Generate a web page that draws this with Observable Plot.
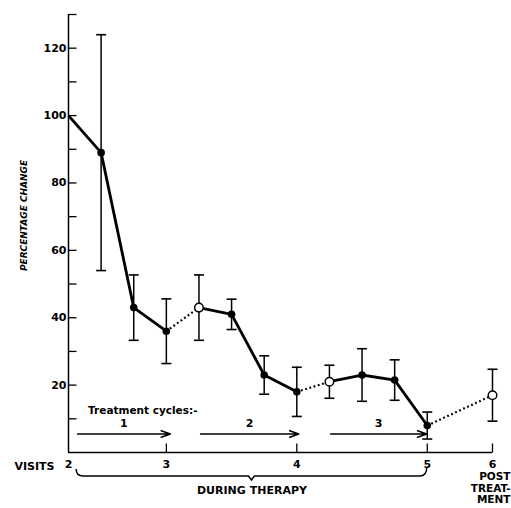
<!DOCTYPE html>
<html>
<head>
<meta charset="utf-8">
<script src="https://cdn.jsdelivr.net/npm/d3@7"></script>
<script src="https://cdn.jsdelivr.net/npm/@observablehq/plot@0.6"></script>
<style>
  body { margin: 0; background: #fff; }
  svg { overflow: visible; }
</style>
</head>
<body>
<div id="chart"></div>
<script>
// Time of each measurement, in weeks from visit 2
const weeks = [0, 1, 2, 3, 4, 5, 6, 7, 8, 9, 10, 11, 13];
// Mean percentage change and its error
const percentChange = [100, 89, 43, 36, 43, 41, 23, 18, 21, 23, 21.5, 8, 17];
const errorSize = [0, 35, 9.7, 9.6, 9.7, 4.5, 5.7, 7.3, 4.9, 7.8, 6, 4, 7.7];
// Marker type: filled = during a cycle, open = between cycles / after treatment
const pointStyle = ["none", "filled", "filled", "filled", "open", "filled", "filled", "filled", "open", "filled", "filled", "filled", "open"];

// Clinic visits
const visitWeeks = [0, 3, 7, 11, 13];
const visitLabels = ["2", "3", "4", "5", "6"];

// Treatment cycles (weeks)
const cycleStart = [0.28, 4.05, 8.04];
const cycleEnd = [3.12, 7.06, 10.98];
const cycleLabels = ["1", "2", "3"];
const cycleHeader = "Treatment cycles:-";

// Therapy period bracket
const therapyStart = 0.25;
const therapyEnd = 11;

const yTickValues = [10, 20, 30, 40, 50, 60, 70, 80, 90, 100, 110, 120, 130];
const yLabelValues = [20, 40, 60, 80, 100, 120];

const points = weeks.map((w, i) => ({week: w, value: percentChange[i], err: errorSize[i], style: pointStyle[i]}));
const segments = d3.pairs(points).map(([a, b]) => ({x1: a.week, y1: a.value, x2: b.week, y2: b.value, dotted: b.style === "open"}));
const withErr = points.filter(p => p.err > 0);
const caps = withErr.flatMap(p => [{week: p.week, y: p.value + p.err}, {week: p.week, y: p.value - p.err}]);

// Custom symbols: error-bar cap, inward axis ticks
const capSymbol = {draw(ctx, size) { const w = Math.sqrt(size / Math.PI); ctx.moveTo(-w, 0); ctx.lineTo(w, 0); }};
const tickRight = {draw(ctx, size) { const w = Math.sqrt(size / Math.PI); ctx.moveTo(0, 0); ctx.lineTo(w, 0); }};
const tickUp = {draw(ctx, size) { const w = Math.sqrt(size / Math.PI); ctx.moveTo(0, 0); ctx.lineTo(0, -w); }};

// Curly bracket under the axis spanning the therapy period
function therapyBrace(index, scales) {
  const {x, y} = scales;
  const xl = x(therapyStart), xr = x(therapyEnd), xm = (xl + xr) / 2;
  const yb = y(0) + 24;
  const d = `M${xl},${yb - 7} Q${xl},${yb} ${xl + 7},${yb} H${xm - 3} L${xm},${yb + 4} L${xm + 3},${yb} H${xr - 7} Q${xr},${yb} ${xr},${yb - 9}`;
  return d3.create("svg:path")
    .attr("d", d).attr("fill", "none").attr("stroke", "black").attr("stroke-width", 1.5)
    .node();
}

const font = "'DejaVu Sans', sans-serif";

const chart = Plot.plot({
  width: 511,
  height: 508,
  marginLeft: 68,
  marginRight: 19,
  marginTop: 14,
  marginBottom: 56,
  style: {fontFamily: font, fontWeight: "bold", fontSize: "11px", color: "black", background: "white"},
  x: {domain: [0, 13], axis: null},
  y: {domain: [0, 130], axis: null},
  marks: [
    // axes frame
    Plot.ruleX([0], {stroke: "black", strokeWidth: 1.5}),
    Plot.ruleY([0], {stroke: "black", strokeWidth: 1.5}),
    Plot.dot(yTickValues, {x: 0, y: d => d, symbol: tickRight, r: 8, stroke: "black", strokeWidth: 1.3, fill: "none"}),
    Plot.dot(visitWeeks.slice(1), {x: d => d, y: 0, symbol: tickUp, r: 9, stroke: "black", strokeWidth: 1.3, fill: "none"}),
    Plot.axisY({ticks: yLabelValues, tickSize: 0, tickPadding: 2, fontSize: 11, fontWeight: "bold", label: null}),
    Plot.axisX({ticks: visitWeeks, tickFormat: d => visitLabels[visitWeeks.indexOf(d)], tickSize: 0, tickPadding: 8, fontSize: 11, fontWeight: "bold", label: null}),
    Plot.text(["PERCENTAGE CHANGE"], {frameAnchor: "left", textAnchor: "middle", rotate: -90, dx: -44, dy: -18, fontSize: 9, fontStyle: "italic", fontWeight: "bold"}),
    Plot.text(["VISITS"], {x: 0, y: 0, dx: -14, dy: 14, textAnchor: "end", fontSize: 11}),
    Plot.text(["POST\nTREAT-\nMENT"], {x: 13, y: 0, dx: 18, dy: 19, textAnchor: "end", lineAnchor: "top", lineHeight: 1.12, fontSize: 10.5}),

    // treatment cycles
    Plot.text([cycleHeader], {x: 0.6, y: 12.3, textAnchor: "start", fontSize: 10.5}),
    Plot.arrow(cycleLabels, {x1: (d, i) => cycleStart[i], x2: (d, i) => cycleEnd[i], y1: 5.5, y2: 5.5, stroke: "black", strokeWidth: 1.6, headLength: 9, headAngle: 40}),
    Plot.text(cycleLabels, {x: (d, i) => (cycleStart[i] + cycleEnd[i]) / 2, y: 8.7, fontSize: 11}),

    // therapy bracket
    therapyBrace,
    Plot.text(["DURING THERAPY"], {x: (therapyStart + therapyEnd) / 2, y: 0, dy: 38, fontSize: 11}),

    // error bars
    Plot.ruleX(withErr, {x: "week", y1: d => d.value - d.err, y2: d => d.value + d.err, stroke: "black", strokeWidth: 1.5}),
    Plot.dot(caps, {x: "week", y: "y", symbol: capSymbol, r: 5, stroke: "black", strokeWidth: 1.6, fill: "none"}),

    // trend line: solid within cycles, dotted into off-treatment measurements
    Plot.link(segments.filter(s => !s.dotted), {x1: "x1", y1: "y1", x2: "x2", y2: "y2", stroke: "black", strokeWidth: 2.8}),
    Plot.link(segments.filter(s => s.dotted), {x1: "x1", y1: "y1", x2: "x2", y2: "y2", stroke: "black", strokeWidth: 2.2, strokeDasharray: "1.8,2.6"}),

    // markers
    Plot.dot(points.filter(p => p.style === "filled"), {x: "week", y: "value", r: 3.8, fill: "black"}),
    Plot.dot(points.filter(p => p.style === "open"), {x: "week", y: "value", r: 4.3, fill: "white", stroke: "black", strokeWidth: 1.5})
  ]
});

document.getElementById("chart").appendChild(chart);
</script>
</body>
</html>
